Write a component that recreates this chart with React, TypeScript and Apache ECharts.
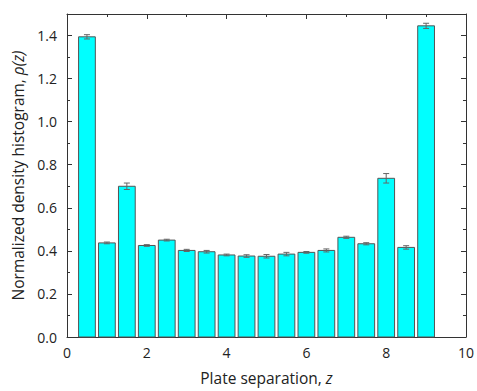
import React, { useEffect, useRef } from "react";
import * as echarts from "echarts";

const positions = [0.5, 1.0, 1.5, 2.0, 2.5, 3.0, 3.5, 4.0, 4.5, 5.0, 5.5, 6.0, 6.5, 7.0, 7.5, 8.0, 8.5, 9.0];
const densities = [1.394, 0.437, 0.70, 0.425, 0.45, 0.402, 0.396, 0.381, 0.376, 0.375, 0.385, 0.393, 0.402, 0.463, 0.433, 0.737, 0.416, 1.445];
const errors = [0.01, 0.004, 0.015, 0.004, 0.004, 0.005, 0.006, 0.004, 0.006, 0.008, 0.008, 0.004, 0.007, 0.005, 0.005, 0.022, 0.008, 0.012];
const barWidthUnits = 0.42;

const FONT = "'Open Sans', 'Noto Sans', sans-serif";
const TEXT = "#222";

export default function App() {
  const ref = useRef<HTMLDivElement>(null);
  useEffect(() => {
    if (!ref.current) return;
    const chart = echarts.init(ref.current, null, { renderer: "svg" });
    const data = positions.map((p, i) => [p, densities[i], errors[i]]);
    const axisCommon = {
      type: "value" as const,
      axisLine: { show: true, onZero: false, lineStyle: { color: "#333", width: 1 } },
      axisTick: { show: true, inside: true, length: 5, lineStyle: { color: "#333" } },
      minorTick: { show: true, splitNumber: 2, length: 3, lineStyle: { color: "#333" } },
      splitLine: { show: false },
      minorSplitLine: { show: false },
    };
    const titleRich = {
      n: { fontSize: 15.5, fontFamily: FONT, color: TEXT },
      i: { fontSize: 15.5, fontFamily: FONT, color: TEXT, fontStyle: "italic" },
    };
    chart.setOption({
      animation: false,
      grid: { left: 67, right: 9, top: 14, bottom: 50, containLabel: false },
      xAxis: [
        {
          ...axisCommon,
          position: "bottom",
          min: 0,
          max: 10,
          interval: 2,
          axisLabel: { color: TEXT, fontSize: 14, fontFamily: FONT, margin: 8 },
          name: "{n|Plate separation, }{i|z}",
          nameLocation: "middle",
          nameGap: 33,
          nameTextStyle: { rich: titleRich },
        },
        {
          ...axisCommon,
          position: "top",
          min: 0,
          max: 10,
          interval: 2,
          axisLabel: { show: false },
        },
      ],
      yAxis: [
        {
          ...axisCommon,
          position: "left",
          min: 0,
          max: 1.5,
          interval: 0.2,
          axisLabel: {
            color: TEXT,
            fontSize: 14,
            fontFamily: FONT,
            margin: 10,
            showMaxLabel: false,
            formatter: (v: number) => v.toFixed(1),
          },
          name: "{n|Normalized density histogram, }{i|ρ(z)}",
          nameLocation: "middle",
          nameGap: 40,
          nameRotate: 90,
          nameTextStyle: { rich: titleRich },
        },
        {
          ...axisCommon,
          position: "right",
          min: 0,
          max: 1.5,
          interval: 0.2,
          axisLabel: { show: false },
        },
      ],
      series: [
        {
          type: "custom",
          xAxisIndex: 0,
          yAxisIndex: 0,
          data,
          renderItem: (params: any, api: any) => {
            const x = api.value(0);
            const y = api.value(1);
            const e = api.value(2);
            const p0 = api.coord([x - barWidthUnits / 2, 0]);
            const p1 = api.coord([x + barWidthUnits / 2, y]);
            const top = api.coord([x, y + e]);
            const bot = api.coord([x, y - e]);
            const cx = api.coord([x, y])[0];
            const cap = 3;
            return {
              type: "group",
              children: [
                {
                  type: "rect",
                  shape: { x: p0[0], y: p1[1], width: p1[0] - p0[0], height: p0[1] - p1[1] },
                  style: { fill: "#00FFFF", stroke: "#555", lineWidth: 1 },
                },
                {
                  type: "line",
                  shape: { x1: cx, y1: top[1], x2: cx, y2: bot[1] },
                  style: { stroke: "#666", lineWidth: 1 },
                },
                {
                  type: "line",
                  shape: { x1: cx - cap, y1: top[1], x2: cx + cap, y2: top[1] },
                  style: { stroke: "#666", lineWidth: 1 },
                },
                {
                  type: "line",
                  shape: { x1: cx - cap, y1: bot[1], x2: cx + cap, y2: bot[1] },
                  style: { stroke: "#666", lineWidth: 1 },
                },
              ],
            };
          },
        },
      ],
    });
    return () => chart.dispose();
  }, []);
  return <div ref={ref} style={{ width: 477, height: 391, position: "absolute", left: 0, top: 0 }} />;
}
